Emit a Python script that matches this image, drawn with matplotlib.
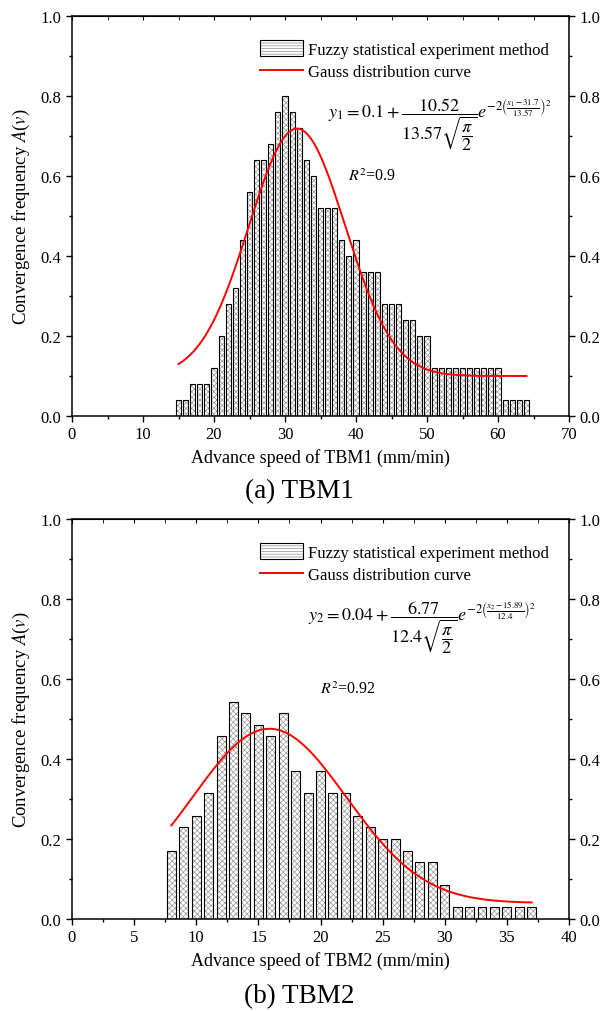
import numpy as np
import matplotlib
matplotlib.use("Agg")
import matplotlib.pyplot as plt
from matplotlib.patches import Patch
from matplotlib.lines import Line2D
from matplotlib.legend_handler import HandlerTuple

plt.rcParams['font.family'] = ['Liberation Serif', 'DejaVu Serif']
plt.rcParams['mathtext.fontset'] = 'stix'
plt.rcParams['hatch.linewidth'] = 0.5

# TBM1 data
speed1 = np.arange(15, 65)
freq1 = [0.04, 0.04, 0.08, 0.08, 0.08, 0.12, 0.20, 0.28, 0.32, 0.44,
         0.56, 0.64, 0.64, 0.68, 0.76, 0.80, 0.76, 0.72, 0.64, 0.60,
         0.52, 0.52, 0.52, 0.44, 0.40, 0.44, 0.36, 0.36, 0.36, 0.28,
         0.28, 0.28, 0.24, 0.24, 0.20, 0.20, 0.12, 0.12, 0.12, 0.12,
         0.12, 0.12, 0.12, 0.12, 0.12, 0.12, 0.04, 0.04, 0.04, 0.04]
# fitted gauss parameters printed on chart: y0, A, xc, w
gauss1 = (0.1, 10.52, 31.7, 13.57)

# TBM2 data
speed2 = np.arange(8, 38)
freq2 = [0.171, 0.229, 0.257, 0.314, 0.457, 0.543, 0.514, 0.486, 0.457, 0.514,
         0.371, 0.314, 0.371, 0.314, 0.314, 0.257, 0.229, 0.200, 0.200, 0.171,
         0.143, 0.143, 0.086, 0.029, 0.029, 0.029, 0.029, 0.029, 0.029, 0.029]
gauss2 = (0.04, 6.77, 15.89, 12.4)


def gauss(x, p):
    y0, A, xc, w = p
    return y0 + A / (w * np.sqrt(np.pi / 2)) * np.exp(-2 * ((x - xc) / w) ** 2)


def draw_panel(ax, xs, ys, p, xmax, xstep, xlabel, eq, eqpos, r2, r2pos):
    # hatch in gray, outline in black
    ax.bar(xs, ys, width=0.72, color='white', edgecolor='0.6', hatch='xxxxxx', linewidth=0, zorder=2)
    ax.bar(xs, ys, width=0.72, fill=False, edgecolor='black', linewidth=0.8, zorder=3)
    xx = np.linspace(xs[0], xs[-1], 300)
    ax.plot(xx, gauss(xx, p), color='red', lw=1.4, zorder=4)

    ax.set_xlim(0, xmax)
    ax.set_ylim(0, 1.0)
    ax.set_xticks(np.arange(0, xmax + 1, xstep))
    ax.set_xticks(np.arange(0, xmax + 1, xstep / 2), minor=True)
    ax.set_yticks(np.arange(0, 1.01, 0.2))
    ax.set_yticks(np.arange(0, 1.01, 0.1), minor=True)
    ax.yaxis.set_major_formatter(matplotlib.ticker.FormatStrFormatter('%.1f'))
    ax.tick_params(which='both', direction='out', right=True, labelright=True, labelsize=12)
    ax.tick_params(which='major', length=4, width=1)
    ax.tick_params(which='minor', length=2.5, width=1)
    for s in ax.spines.values():
        s.set_linewidth(1.1)
    top = ax.secondary_xaxis('top')
    top.set_xticks(np.arange(0, xmax + 1, xstep))
    top.set_xticks(np.arange(0, xmax + 1, xstep / 2), minor=True)
    top.tick_params(which='both', direction='in', labeltop=False, length=3)
    top.set_xticklabels([])

    ax.set_xlabel(xlabel, fontsize=13, labelpad=4)
    ax.set_ylabel('Convergence frequency $A$($v$)', fontsize=13.5, labelpad=6)

    h_bar = (Patch(facecolor='white', edgecolor='0.55', hatch='------', linewidth=0),
             Patch(fill=False, edgecolor='black', linewidth=0.8))
    h_line = Line2D([], [], color='red', lw=1.4)
    ax.legend([h_bar, h_line], ['Fuzzy statistical experiment method', 'Gauss distribution curve'],
              handler_map={tuple: HandlerTuple(ndivide=1)}, loc='upper right',
              bbox_to_anchor=(0.98, 0.965), frameon=False, fontsize=12,
              handlelength=2.6, handleheight=1.1, handletextpad=0.3, labelspacing=0.3,
              borderaxespad=0.2)
    ax.text(eqpos[0], eqpos[1], eq, transform=ax.transAxes, fontsize=13, ha='left', va='center')
    ax.text(r2pos[0], r2pos[1], r2, transform=ax.transAxes, fontsize=11.5, ha='left', va='center')


fig = plt.figure(figsize=(6.01, 10.12), dpi=100)
ax1 = fig.add_axes([72 / 601, 1 - 417 / 1012, 497 / 601, 400 / 1012])
ax2 = fig.add_axes([72 / 601, 1 - 920 / 1012, 497 / 601, 400 / 1012])

eq1 = (r'$y_1 = 0.1 + \dfrac{10.52}{13.57\sqrt{\dfrac{\pi}{2}}}'
       r'e^{-2\left(\frac{x_1 - 31.7}{13.57}\right)^2}$')
eq2 = (r'$y_2 = 0.04 + \dfrac{6.77}{12.4\sqrt{\dfrac{\pi}{2}}}'
       r'e^{-2\left(\frac{x_2 - 15.89}{12.4}\right)^2}$')

draw_panel(ax1, speed1, freq1, gauss1, 70, 10, 'Advance speed of TBM1 (mm/min)',
           eq1, (0.515, 0.73), '$R^2$=0.9', (0.555, 0.6))
draw_panel(ax2, speed2, freq2, gauss2, 40, 5, 'Advance speed of TBM2 (mm/min)',
           eq2, (0.475, 0.73), '$R^2$=0.92', (0.5, 0.575))

fig.text(299 / 601, 1 - 492 / 1012, '(a) TBM1', fontsize=19.5, ha='center', va='center')
fig.text(299 / 601, 1 - 997 / 1012, '(b) TBM2', fontsize=19.5, ha='center', va='center')

fig.savefig('out.png', dpi=100)
